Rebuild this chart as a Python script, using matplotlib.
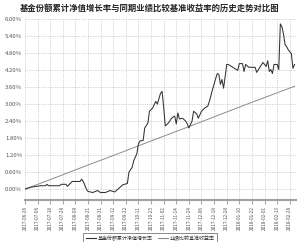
import matplotlib
matplotlib.use("Agg")
import matplotlib.pyplot as plt
from matplotlib.ticker import FuncFormatter
from matplotlib.lines import Line2D

plt.rcParams['font.family'] = ['Noto Sans CJK SC', 'DejaVu Sans']

title = "基金份额累计净值增长率与同期业绩比较基准收益率的历史走势对比图"
fund_label = "基金份额累计净值增长率"
bench_label = "业绩比较基准收益率"

tick_labels = ["2017-06-26", "2017-07-06", "2017-07-18", "2017-07-28", "2017-08-09",
               "2017-08-21", "2017-08-31", "2017-09-12", "2017-09-22", "2017-10-11",
               "2017-10-23", "2017-11-02", "2017-11-14", "2017-11-24", "2017-12-06",
               "2017-12-18", "2017-12-28", "2018-01-10", "2018-01-22", "2018-02-01",
               "2018-02-13", "2018-02-28"]
tick_days = [0, 8, 16, 24, 32, 40, 48, 56, 64, 72, 80, 88, 96, 104, 112, 120,
             128, 136, 144, 152, 160, 168]

fund_days = [0, 4, 10, 13, 14, 15, 22, 23, 26, 27, 30, 35, 36, 37, 39, 40, 43, 46, 48,
             51, 54, 57, 59, 62, 65, 66, 68, 69, 71, 72, 73, 75, 76, 78, 79, 81, 83, 84,
             86, 87, 88, 89, 91, 93, 95, 96, 97, 98, 100, 102, 103, 104, 106, 107, 109,
             110, 112, 114, 116, 117, 119, 121, 122, 123, 124, 125, 126, 127, 128, 129,
             131, 133, 135, 136, 138, 139, 140, 142, 146, 147, 149, 151, 153, 154, 155,
             156, 157, 158, 160, 161, 162, 163, 164, 165, 166, 167, 169, 170, 171]
fund_vals = [0.0, 0.07, 0.12, 0.12, 0.17, 0.12, 0.12, 0.17, 0.17, 0.10, 0.27, 0.27,
             0.35, 0.27, 0.0, -0.08, -0.12, -0.05, -0.12, -0.12, -0.05, -0.10, 0.0,
             0.15, 0.20, 0.60, 0.77, 1.00, 1.25, 1.60, 1.70, 1.72, 2.16, 2.33, 2.75,
             2.86, 3.10, 3.00, 3.38, 3.45, 2.90, 2.23, 2.33, 2.50, 2.58, 2.30, 2.69,
             2.48, 2.50, 2.40, 2.30, 2.16, 2.40, 2.75, 2.65, 2.50, 2.75, 2.86, 2.93,
             3.10, 3.52, 3.90, 4.08, 4.05, 3.70, 3.87, 3.56, 3.97, 4.40, 4.40, 4.33,
             4.26, 4.19, 4.43, 4.43, 4.15, 4.40, 4.30, 4.30, 4.12, 4.30, 4.47, 4.33,
             4.53, 4.15, 4.22, 4.08, 4.40, 4.40, 4.22, 5.83, 5.73, 5.48, 5.10, 5.03,
             4.92, 4.78, 4.26, 4.40]

bench_days = [0, 20, 40, 60, 80, 100, 120, 140, 160, 171]
bench_vals = [0.0, 0.42, 0.85, 1.27, 1.70, 2.12, 2.55, 2.98, 3.40, 3.63]

yticks = [0.0, 0.6, 1.2, 1.8, 2.4, 3.0, 3.6, 4.2, 4.8, 5.4, 6.0]

fig = plt.figure(figsize=(3.0, 2.42), dpi=100)
ax = fig.add_axes([0.083, 0.174, 0.904, 0.747])

ax.plot(bench_days, bench_vals, color='#8c8c8c', lw=0.7, zorder=2)
ax.plot(fund_days, fund_vals, color='#333333', lw=0.75, zorder=3)

ax.set_xlim(0, 172)
ax.set_ylim(-0.38, 6.0)
ax.set_yticks(yticks)
ax.yaxis.set_major_formatter(FuncFormatter(lambda v, p: f"{v:.2f}%"))
ax.set_xticks(tick_days)
ax.set_xticklabels(tick_labels, rotation=90)
ax.tick_params(axis='y', length=0, labelsize=4.3, labelcolor='#555555', pad=2)
ax.tick_params(axis='x', length=3, color='#aaaaaa', labelsize=3.4, labelcolor='#555555', pad=1.5)
ax.grid(True, color='#b0b0b0', linestyle=(0, (1, 1.5)), lw=0.5)
for s in ['top', 'right', 'left']:
    ax.spines[s].set_visible(False)
ax.spines['bottom'].set_color('#a0a0a0')
ax.spines['bottom'].set_linewidth(1.5)

fig.text(0.5, 0.965, title, ha='center', va='center', fontsize=6, fontweight='bold', color='#222222')

handles = [Line2D([], [], color='#333333', lw=0.8), Line2D([], [], color='#8c8c8c', lw=0.8)]
leg = fig.legend(handles, [fund_label, bench_label], loc='upper center', bbox_to_anchor=(0.5, 0.048),
                 ncol=2, fontsize=3.6, frameon=True, fancybox=False, handlelength=2.0,
                 handletextpad=0.4, columnspacing=1.0, borderpad=0.5)
leg.get_frame().set_edgecolor('#555555')
leg.get_frame().set_linewidth(0.6)
for t in leg.get_texts():
    t.set_color('#333333')

fig.savefig('out.png', dpi=100)
